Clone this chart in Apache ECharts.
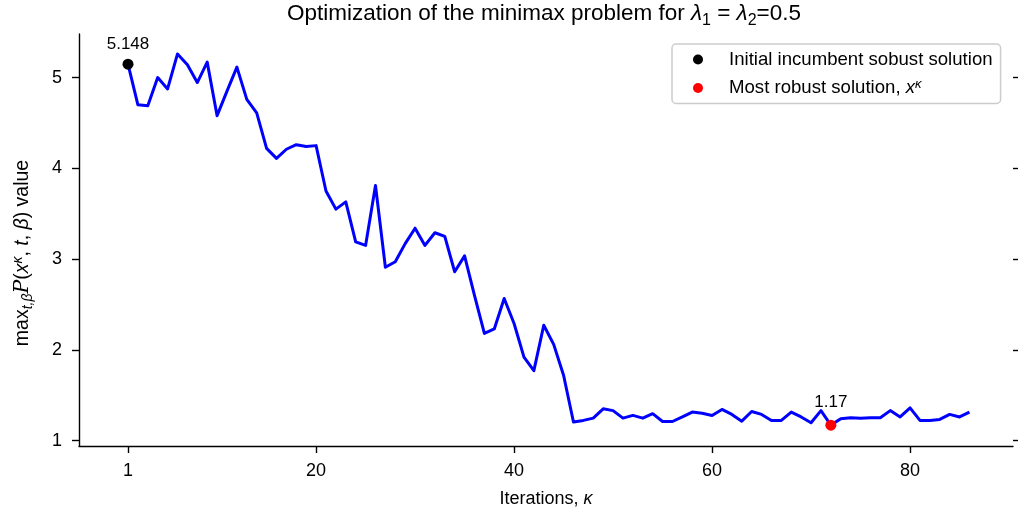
<!DOCTYPE html>
<html>
<head>
<meta charset="utf-8">
<script src="https://cdn.jsdelivr.net/npm/echarts@6/dist/echarts.min.js"></script>
<style>
  html, body { margin: 0; padding: 0; background: #ffffff; }
  #chart { width: 1018px; height: 513px; }
</style>
</head>
<body>
<div id="chart"></div>
<script>
// Iteration index of the minimax solver
const iterations = [
  1, 2, 3, 4, 5, 6, 7, 8, 9, 10,
  11, 12, 13, 14, 15, 16, 17, 18, 19, 20,
  21, 22, 23, 24, 25, 26, 27, 28, 29, 30,
  31, 32, 33, 34, 35, 36, 37, 38, 39, 40,
  41, 42, 43, 44, 45, 46, 47, 48, 49, 50,
  51, 52, 53, 54, 55, 56, 57, 58, 59, 60,
  61, 62, 63, 64, 65, 66, 67, 68, 69, 70,
  71, 72, 73, 74, 75, 76, 77, 78, 79, 80,
  81, 82, 83, 84, 85, 86
];

// max over (t, beta) of the objective at each iterate
const maxObjective = [
  5.148, 4.70, 4.69, 5.00, 4.875, 5.26, 5.14, 4.945, 5.17, 4.58,
  4.85, 5.115, 4.76, 4.61, 4.22, 4.11, 4.21, 4.26, 4.24, 4.25,
  3.75, 3.55, 3.63, 3.19, 3.15, 3.81, 2.91, 2.97, 3.17, 3.34,
  3.15, 3.29, 3.25, 2.86, 3.035, 2.60, 2.18, 2.23, 2.565, 2.29,
  1.92, 1.77, 2.27, 2.06, 1.72, 1.205, 1.222, 1.247, 1.35, 1.33,
  1.247, 1.277, 1.247, 1.296, 1.21, 1.21, 1.26, 1.314, 1.30, 1.277,
  1.343, 1.288, 1.214, 1.32, 1.288, 1.222, 1.222, 1.314, 1.26, 1.196,
  1.33, 1.17, 1.24, 1.252, 1.247, 1.252, 1.252, 1.33, 1.26, 1.36,
  1.222, 1.222, 1.233, 1.288, 1.26, 1.314
];

// Highlighted iterates: [iteration, value]
const initialSolution = [1, 5.148];
const mostRobustSolution = [72, 1.17];

const xTicks = [1, 20, 40, 60, 80];
const yTicks = [1, 2, 3, 4, 5];

const seriesNames = {
  initial: 'Initial incumbent sobust solution',
  robust: 'Most robust solution, x\u03BA'
};

const FONT = '"Liberation Sans", Arial, Helvetica, sans-serif';

const lineData = iterations.map((it, i) => [it, maxObjective[i]]);

const chart = echarts.init(document.getElementById('chart'), null, { renderer: 'canvas' });

// Rich-text styles for inline math (italic symbols, sub- and superscripts)
const mathRich = (size, lh) => {
  const small = Math.round(size * 0.7);
  const base = { fontFamily: FONT, fontWeight: 'normal', color: '#000' };
  return {
    t: Object.assign({}, base, { fontSize: size, lineHeight: lh, verticalAlign: 'middle' }),
    i: Object.assign({}, base, { fontSize: size, fontStyle: 'italic', lineHeight: lh, verticalAlign: 'middle' }),
    sub: Object.assign({}, base, { fontSize: small, lineHeight: small, verticalAlign: 'bottom' }),
    isub: Object.assign({}, base, { fontSize: small, fontStyle: 'italic', lineHeight: small, verticalAlign: 'bottom' }),
    sup: Object.assign({}, base, { fontSize: small, fontStyle: 'italic', lineHeight: small, verticalAlign: 'top' }),
    cal: Object.assign({}, base, { fontFamily: '"DejaVu Serif", serif', fontSize: size + 1, fontStyle: 'italic', lineHeight: lh, verticalAlign: 'middle' })
  };
};

const option = {
  animation: false,
  backgroundColor: '#ffffff',
  title: {
    text: '{t|Optimization of the minimax problem for }{i|\u03BB}{sub|1}{t| = }{i|\u03BB}{sub|2}{t|=0.5}',
    left: 539,
    top: -6,
    textAlign: 'center',
    textStyle: { fontWeight: 'normal', rich: mathRich(22.5, 30) }
  },
  grid: { left: 79, right: 5, top: 34, bottom: 67, containLabel: false },
  legend: {
    data: [seriesNames.initial, seriesNames.robust],
    orient: 'vertical',
    left: 672,
    top: 44,
    padding: [6, 8, 6, 21],
    itemGap: 9,
    itemWidth: 52,
    itemHeight: 10,
    icon: 'circle',
    borderColor: '#cccccc',
    borderWidth: 1.5,
    borderRadius: 4,
    backgroundColor: 'rgba(255,255,255,0.8)',
    itemStyle: { opacity: 1 },
    textStyle: {
      fontFamily: FONT,
      fontSize: 18.6,
      color: '#000',
      rich: mathRich(18.6, 20)
    },
    formatter: (name) => name === seriesNames.robust
      ? '{t|Most robust solution, }{i|x}{sup|\u03BA}'
      : '{t|' + name + '}'
  },
  xAxis: {
    type: 'value',
    min: -3.95,
    max: 90.4,
    name: '{t|Iterations, }{i|\u03BA}',
    nameLocation: 'middle',
    nameGap: 42,
    nameTextStyle: { rich: mathRich(18, 22) },
    axisLine: { show: true, onZero: false, lineStyle: { color: '#000', width: 1.4 } },
    axisTick: { show: true, customValues: xTicks, length: 7, lineStyle: { color: '#000', width: 1.4 } },
    axisLabel: { customValues: xTicks, fontFamily: FONT, fontSize: 18, color: '#000', margin: 16 },
    splitLine: { show: false }
  },
  yAxis: [
    {
      type: 'value',
      min: 0.94,
      max: 5.48,
      name: '{t|max}{isub|t,\u03B2}{cal|P}{t|(}{i|x}{sup|\u03BA}{t|, }{i|t}{t|, }{i|\u03B2}{t|) value}',
      nameLocation: 'middle',
      nameRotate: 90,
      nameGap: 44,
      nameTextStyle: { padding: [0, 26, 0, 0], rich: mathRich(19.5, 24) },
      axisLine: { show: true, onZero: false, lineStyle: { color: '#000', width: 1.4 } },
      axisTick: { show: true, customValues: yTicks, length: 7, lineStyle: { color: '#000', width: 1.4 } },
      axisLabel: { customValues: yTicks, fontFamily: FONT, fontSize: 18, color: '#000', margin: 17 },
      splitLine: { show: false }
    },
    {
      type: 'value',
      position: 'right',
      min: 0.94,
      max: 5.48,
      axisLine: { show: false, onZero: false },
      axisTick: { show: true, customValues: yTicks, length: 6, lineStyle: { color: '#000', width: 1.4 } },
      axisLabel: { show: false },
      splitLine: { show: false }
    }
  ],
  series: [
    {
      name: 'objective',
      type: 'line',
      data: lineData,
      showSymbol: false,
      symbol: 'none',
      z: 2,
      lineStyle: { color: '#0000ff', width: 3, join: 'round' }
    },
    {
      name: seriesNames.initial,
      type: 'scatter',
      data: [initialSolution],
      symbol: 'circle',
      symbolSize: 11,
      z: 4,
      itemStyle: { color: '#000000', opacity: 1 },
      label: {
        show: true,
        position: 'top',
        distance: 6,
        fontFamily: FONT,
        fontSize: 17,
        color: '#000',
        formatter: (p) => String(p.value[1])
      }
    },
    {
      name: seriesNames.robust,
      type: 'scatter',
      data: [mostRobustSolution],
      symbol: 'circle',
      symbolSize: 11,
      z: 4,
      itemStyle: { color: '#ff0000', opacity: 1 },
      label: {
        show: true,
        position: 'top',
        distance: 9,
        fontFamily: FONT,
        fontSize: 17,
        color: '#000',
        formatter: (p) => String(p.value[1])
      }
    }
  ]
};

chart.setOption(option);
</script>
</body>
</html>
